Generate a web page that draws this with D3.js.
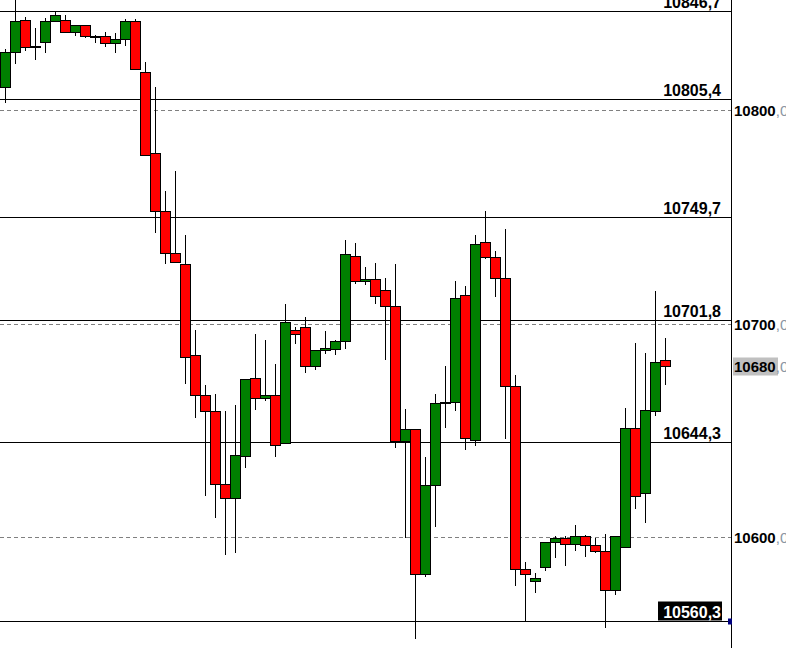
<!DOCTYPE html>
<html><head><meta charset="utf-8">
<script src="https://cdn.jsdelivr.net/npm/d3@7"></script>
<style>html,body{margin:0;padding:0;background:#fff;overflow:hidden}</style>
</head><body>
<svg id="chart" width="786" height="648"></svg>
<script>
// ---- data ----
const opens  = [10811.0,10827.4,10842.4,10830.0,10832.1,10841.9,10842.4,10836.8,10840.0,10834.7,10834.9,10831.3,10833.3,10841.9,10818.0,10780.0,10752.8,10733.1,10728.0,10685.3,10666.6,10659.1,10624.8,10618.3,10638.0,10674.5,10665.3,10666.6,10644.1,10696.9,10698.5,10680.2,10687.7,10688.1,10691.9,10731.7,10720.0,10721.0,10715.8,10708.3,10645.0,10650.6,10582.7,10624.4,10663.4,10663.4,10713.5,10645.6,10738.3,10731.3,10721.4,10670.8,10585.0,10579.4,10585.9,10597.7,10599.5,10596.7,10600.5,10596.2,10593.4,10575.2,10595.3,10651.1,10620.6,10658.9,10683.0];
const highs  = [10828.9,10853.0,10843.8,10838.8,10843.3,10846.3,10844.9,10840.0,10840.0,10835.6,10836.8,10836.3,10842.9,10842.9,10822.7,10811.1,10762.4,10771.7,10741.7,10697.2,10671.4,10667.2,10659.2,10662.0,10674.1,10695.3,10692.5,10681.3,10709.4,10698.5,10703.3,10687.7,10696.7,10692.6,10739.4,10738.0,10726.7,10728.6,10721.6,10728.1,10660.2,10650.6,10637.5,10667.2,10680.3,10720.2,10717.8,10741.9,10753.0,10734.2,10744.5,10676.1,10588.4,10583.1,10597.7,10600.6,10600.6,10605.8,10601.1,10599.5,10601.6,10600.5,10660.6,10691.0,10686.3,10715.3,10693.3];
const lows   = [10803.6,10821.9,10828.1,10823.8,10827.2,10841.9,10836.8,10835.2,10834.2,10831.6,10830.0,10827.2,10830.5,10819.4,10779.1,10742.5,10728.0,10728.9,10672.0,10656.1,10619.5,10608.9,10591.8,10592.5,10632.6,10659.7,10663.9,10637.8,10644.1,10690.8,10677.2,10678.4,10686.1,10685.6,10688.1,10718.9,10718.3,10709.5,10683.3,10641.7,10599.5,10552.2,10581.2,10605.0,10651.4,10659.4,10640.9,10643.0,10730.3,10712.8,10646.2,10577.2,10560.3,10574.0,10584.3,10590.4,10586.7,10593.7,10590.9,10592.5,10557.3,10572.8,10595.3,10613.1,10606.6,10657.0,10671.5];
const closes = [10827.4,10841.9,10829.7,10830.0,10841.9,10844.7,10836.8,10840.0,10835.0,10834.7,10831.3,10833.3,10841.9,10819.4,10779.1,10752.8,10733.1,10728.9,10684.4,10666.6,10659.1,10624.8,10618.3,10638.4,10674.1,10665.3,10666.6,10643.1,10700.8,10695.2,10680.2,10687.7,10688.3,10691.9,10732.7,10720.0,10721.0,10713.0,10708.3,10645.0,10650.6,10582.7,10624.4,10662.8,10663.4,10712.1,10646.4,10737.4,10731.3,10721.4,10670.8,10585.0,10582.7,10580.8,10597.7,10599.5,10596.7,10600.5,10596.2,10593.4,10575.2,10600.5,10651.1,10619.2,10659.4,10682.0,10680.0];
const levels = [10846.7,10805.4,10749.7,10701.8,10644.3,10560.3];
const axisTicks = [10800,10700,10600];
const lastPrice = 10680;
const markedLevel = 10560.3;

const svg = d3.select("#chart");
const W = 786, H = 648, axisX = 731;
const y = d3.scaleLinear().domain([10600,10800]).range([537.3,110.7]);
const x = d3.scaleBand().domain(d3.range(opens.length)).range([0.5, 670.5]).padding(0);
const snap = v => Math.floor(v) + 0.5;
const fmt = v => d3.format(".1f")(v).replace(".", ",");
const FONT = "'Liberation Sans', Arial, sans-serif";

// dashed grid
svg.append("g").selectAll("line").data(axisTicks).join("line")
  .attr("x1",0).attr("x2",axisX).attr("y1",d=>snap(y(d))).attr("y2",d=>snap(y(d)))
  .attr("stroke","#808080").attr("stroke-dasharray","4,3").attr("stroke-width",1);

// level lines
svg.append("g").selectAll("line").data(levels).join("line")
  .attr("x1",0).attr("x2",axisX).attr("y1",d=>snap(y(d))).attr("y2",d=>snap(y(d)))
  .attr("stroke","#000").attr("stroke-width",1);

// candles
const idx = d3.range(opens.length);
const cg = svg.append("g");
cg.selectAll("line.wick").data(idx).join("line").attr("class","wick")
  .attr("x1",i=>x(i)+x.bandwidth()/2).attr("x2",i=>x(i)+x.bandwidth()/2)
  .attr("y1",i=>Math.round(y(highs[i]))).attr("y2",i=>Math.round(y(lows[i])))
  .attr("stroke","#000").attr("stroke-width",1);
cg.selectAll("rect.body").data(idx).join("rect").attr("class","body")
  .attr("x",i=>x(i)).attr("width",x.bandwidth())
  .attr("y",i=>snap(y(Math.max(opens[i],closes[i]))))
  .attr("height",i=>Math.max(1, snap(y(Math.min(opens[i],closes[i]))) - snap(y(Math.max(opens[i],closes[i])))))
  .attr("fill",i=>closes[i]>=opens[i] ? "#008000" : "#ff0000")
  .attr("stroke","#000").attr("stroke-width",1);

// level labels
const lg = svg.append("g");
levels.forEach(v=>{
  const yy = snap(y(v));
  if (v === markedLevel) {
    lg.append("rect").attr("x",658).attr("y",yy-20).attr("width",64).attr("height",19).attr("fill","#000");
  }
  lg.append("text").attr("x",721).attr("y",yy-4).attr("text-anchor","end")
    .attr("font-family",FONT).attr("font-weight","bold").attr("font-size",16)
    .attr("fill", v===markedLevel ? "#fff" : "#000").text(fmt(v));
});

// right axis
svg.append("line").attr("x1",axisX+0.5).attr("x2",axisX+0.5).attr("y1",0).attr("y2",H)
  .attr("stroke","#000").attr("stroke-width",1);
svg.append("rect").attr("x",733).attr("y",snap(y(lastPrice))-9).attr("width",45).attr("height",18).attr("fill","#c0c0c0");
[...axisTicks, lastPrice].forEach(v=>{
  const t = svg.append("text").attr("x",734).attr("y",y(v)+5.5)
    .attr("font-family",FONT).attr("font-weight","bold").attr("font-size",15);
  const parts = fmt(v).split(",");
  t.append("tspan").attr("fill","#000").text(parts[0]);
  t.append("tspan").attr("fill","#8a96a3").attr("font-weight","normal").text(","+parts[1]);
});
svg.append("rect").attr("x",728).attr("y",snap(y(markedLevel))-3).attr("width",4).attr("height",6).attr("fill","#000080");
</script>
</body></html>
